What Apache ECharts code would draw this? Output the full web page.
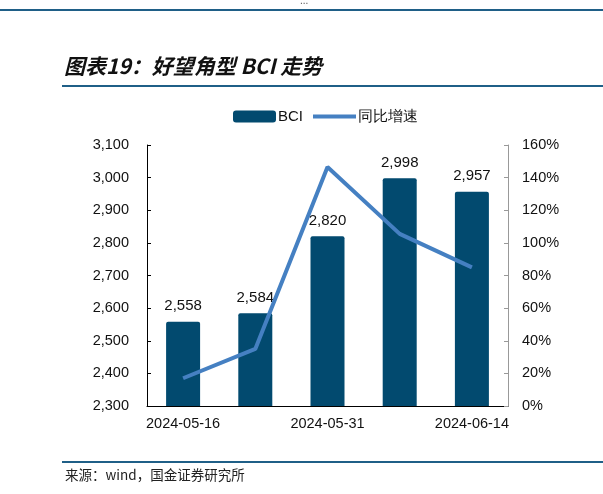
<!DOCTYPE html>
<html>
<head>
<meta charset="utf-8">
<script src="https://cdn.jsdelivr.net/npm/echarts@6/dist/echarts.min.js"></script>
<style>
html,body{margin:0;padding:0;background:#fff;}
#c{width:603px;height:494px;}
</style>
</head>
<body>
<div id="c"></div>
<script>
var categories = ['2024-05-16', '2024-05-24', '2024-05-31', '2024-06-07', '2024-06-14'];
var bciValues = [2558, 2584, 2820, 2998, 2957];
var yoyValues = [17, 35, 146.5, 105.5, 85];
var leftTicks = { min: 2300, max: 3100, interval: 100 };
var rightTicks = { min: 0, max: 160, interval: 20 };

var chart = echarts.init(document.getElementById('c'), null, { renderer: 'canvas' });
var lineColor = '#1f5f87';
var fontFam = 'Liberation Sans, Arial, sans-serif';
chart.setOption({
  animation: false,
  backgroundColor: '#fff',
  graphic: [
    { type: 'rect', shape: { x: 0, y: 9, width: 603, height: 2 }, style: { fill: lineColor } },
    { type: 'text', left: 300, top: -4, style: { text: '...', fontSize: 10, fill: '#555' } },
    { type: 'text', left: 64, top: 56, style: { text: '图表19：好望角型 BCI 走势', fontSize: 21, fontStyle: 'italic', fontWeight: 'bold', fontFamily: 'Noto Sans CJK SC', fill: '#111' } },
    { type: 'rect', shape: { x: 62, y: 85, width: 541, height: 2 }, style: { fill: lineColor } },
    { type: 'rect', shape: { x: 62, y: 461, width: 541, height: 2 }, style: { fill: lineColor } },
    { type: 'text', left: 65, top: 468, style: { text: '来源：wind，国金证券研究所', fontSize: 13.5, fontFamily: 'Noto Sans CJK SC', fill: '#222' } }
  ],
  legend: {
    top: 104,
    left: 228,
    itemGap: 10,
    itemWidth: 43,
    itemHeight: 12,
    textStyle: { fontSize: 15, color: '#111', fontFamily: fontFam, padding: [0, 0, 0, -3] },
    data: [
      { name: 'BCI', icon: 'roundRect' },
      { name: '同比增速', icon: 'path://M0,4 L44,4 L44,8 L0,8 Z' }
    ]
  },
  grid: { left: 147, right: 95, top: 145, bottom: 88 },
  xAxis: {
    type: 'category',
    data: categories,
    boundaryGap: true,
    axisLine: { lineStyle: { color: '#000', width: 1 } },
    axisTick: { inside: true, length: 5, interval: 0, alignWithLabel: false, lineStyle: { color: '#000' } },
    axisLabel: { interval: 1, fontSize: 14.5, color: '#111', fontFamily: fontFam, margin: 10 }
  },
  yAxis: [
    {
      type: 'value',
      min: leftTicks.min, max: leftTicks.max, interval: leftTicks.interval,
      splitLine: { show: false },
      axisLine: { show: true, lineStyle: { color: '#000' } },
      axisTick: { show: true, inside: true, length: 4, lineStyle: { color: '#000' } },
      axisLabel: {
        fontSize: 14.5, color: '#111', fontFamily: fontFam, margin: 18,
        formatter: function (v) { return v.toLocaleString('en-US'); }
      }
    },
    {
      type: 'value',
      min: rightTicks.min, max: rightTicks.max, interval: rightTicks.interval,
      splitLine: { show: false },
      axisLine: { show: true, lineStyle: { color: '#999' } },
      axisTick: { show: true, inside: true, length: 4, lineStyle: { color: '#999' } },
      axisLabel: { fontSize: 14.5, color: '#111', fontFamily: fontFam, margin: 14, formatter: '{value}%' }
    }
  ],
  series: [
    {
      name: 'BCI',
      type: 'bar',
      data: bciValues,
      barWidth: 34,
      itemStyle: { color: '#024a6f', borderRadius: [2, 2, 0, 0] },
      label: {
        show: true, position: 'top', distance: 8, fontSize: 15, color: '#111', fontFamily: fontFam,
        formatter: function (p) { return p.value.toLocaleString('en-US'); }
      },
      z: 2
    },
    {
      name: '同比增速',
      type: 'line',
      yAxisIndex: 1,
      data: yoyValues,
      symbol: 'none',
      lineStyle: { color: '#4580c2', width: 4 },
      itemStyle: { color: '#4580c2' },
      z: 3
    }
  ]
});
</script>
</body>
</html>
